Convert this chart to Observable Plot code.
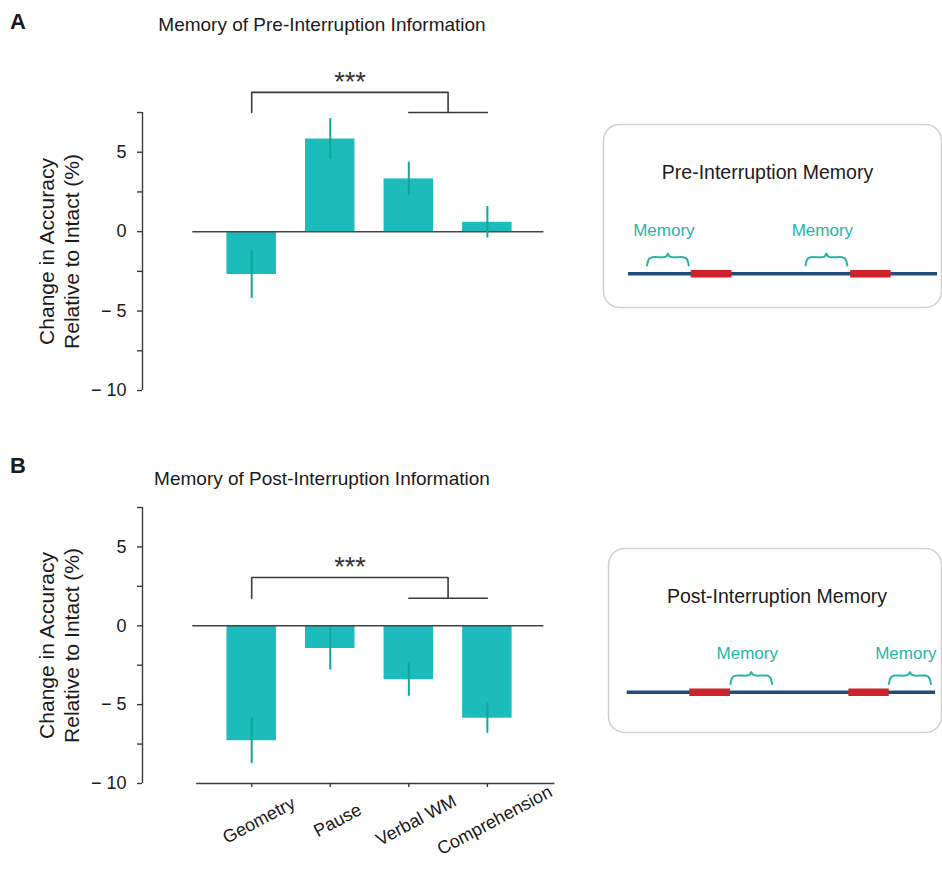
<!DOCTYPE html>
<html>
<head>
<meta charset="utf-8">
<script src="https://cdn.jsdelivr.net/npm/d3@7"></script>
<script src="https://cdn.jsdelivr.net/npm/@observablehq/plot@0.6"></script>
<style>
  html, body { margin: 0; padding: 0; background: #fff; }
  #fig { position: relative; width: 942px; height: 872px; background: #fff; overflow: hidden;
         font-family: 'Liberation Sans', Arial, Helvetica, sans-serif; color: #1a1a1a; }
  .abs { position: absolute; }
  .letter { position: absolute; font-weight: bold; font-size: 22px; line-height: 1; }
  .title { position: absolute; left: 0; width: 644px; text-align: center; font-size: 19px; line-height: 1; white-space: nowrap; }
</style>
</head>
<body>
<div id="fig">
  <div id="barA" class="abs" style="left:0;top:0;width:600px;height:420px"></div>
  <div id="barB" class="abs" style="left:0;top:440px;width:600px;height:432px"></div>
  <div id="schA" class="abs" style="left:600px;top:115px;width:342px;height:200px"></div>
  <div id="schB" class="abs" style="left:600px;top:540px;width:342px;height:200px"></div>
  <div class="letter" style="left:10px;top:11px">A</div>
  <div class="title" style="top:15px">Memory of Pre-Interruption Information</div>
  <div class="letter" style="left:10px;top:455px">B</div>
  <div class="title" style="top:469px">Memory of Post-Interruption Information</div>
</div>
<script>
// ---------------- data ----------------
const categories = ["Geometry", "Pause", "Verbal WM", "Comprehension"];
const preValues  = [-2.7, 5.83, 3.32, 0.59];
const preErrors  = [1.5, 1.29, 1.05, 0.99];
const postValues = [-7.29, -1.44, -3.41, -5.86];
const postErrors = [1.45, 1.36, 1.06, 0.96];
const yTicks = [-10, -7.5, -5, -2.5, 0, 2.5, 5, 7.5];
const yDomain = [-10, 7.5];
const yLabel = "Change in Accuracy\nRelative to Intact (%)";
const sigLabel = "***";

// significance bracket: Geometry vs {Verbal WM, Comprehension}
const bracketLeft = "Geometry";
const bracketRight = ["Verbal WM", "Comprehension"];
const preBracketLevels  = {low: 7.5, high: 8.77, stars: 9.38};
const postBracketLevels = {low: 1.75, high: 3.06, stars: 3.70};

// schematic timelines (abstract time units)
const timelineSpan = [0, 100];
const interruptions = [[20.3, 33.5], [71.9, 85]];
const preMemoryWindows  = [[6, 19.5], [57.3, 70.8]];
const postMemoryWindows = [[33.5, 47], [84.9, 98.5]];
const memoryLabel = "Memory";
const preSchematicTitle = "Pre-Interruption Memory";
const postSchematicTitle = "Post-Interruption Memory";

// ---------------- styles ----------------
const FONT = "'Liberation Sans', Arial, Helvetica, sans-serif";
const BAR = "#1bbcbb", ERR = "#15a699", INK = "#1a1a1a", LINE = "#3a3a3a";
const TEAL = "#27b4a7", NAVY = "#1f4e7a", RED = "#cc2229", BOX = "#cfcfcf";
const xDomain = [-1.39, 3.88];
const halfBar = 0.315;
const zeroSpan = [-0.75, 3.72];
const baseSpan = [-0.70, 3.86];
// brace glyph: [fraction of width, height above timeline]
const braceShape = [[0,8.3],[0.015,11.5],[0.05,15],[0.13,16.6],[0.39,16.6],[0.465,17.6],[0.5,20.3],[0.535,17.6],[0.61,16.6],[0.87,16.6],[0.95,15],[0.985,11.5],[1,8.3]];

function barChart({values, errors, levels, height, marginTop, marginBottom, xAxis}) {
  const data = categories.map((c, i) => ({cat: c, i, value: values[i], err: errors[i]}));
  const li = categories.indexOf(bracketLeft);
  const ri = bracketRight.map(c => categories.indexOf(c));
  const mid = d3.mean(ri);
  const bracketTop = [
    {x: li, y: levels.low}, {x: li, y: levels.high},
    {x: mid, y: levels.high}, {x: mid, y: levels.low}
  ];
  const bracketBase = [{x: ri[0], y: levels.low}, {x: ri[1], y: levels.low}];
  const fmt = d => d % 5 ? "" : d < 0 ? "\u2212 " + (-d) : String(d);
  const marks = [
    Plot.rect(data, {x1: d => d.i - halfBar, x2: d => d.i + halfBar, y1: () => 0, y2: "value", fill: BAR}),
    Plot.ruleY([0], {x1: () => zeroSpan[0], x2: () => zeroSpan[1], stroke: "#444", strokeWidth: 1.5}),
    Plot.ruleX(data, {x: "i", y1: d => d.value - d.err, y2: d => d.value + d.err, stroke: ERR, strokeWidth: 2}),
    Plot.line(bracketTop, {x: "x", y: "y", stroke: LINE, strokeWidth: 1.6}),
    Plot.line(bracketBase, {x: "x", y: "y", stroke: LINE, strokeWidth: 1.6}),
    Plot.text([sigLabel], {x: () => (li + mid) / 2, y: () => levels.stars, fontSize: 27, fill: "#333"}),
    Plot.ruleX([xDomain[0]], {y1: () => yDomain[0], y2: () => yDomain[1], stroke: LINE, strokeWidth: 1.4}),
    Plot.axisY(yTicks, {tickFormat: fmt, tickSize: 5, tickPadding: 11, fontSize: 18, stroke: LINE, strokeWidth: 1.4, fill: INK, label: null}),
    Plot.text([yLabel], {frameAnchor: "left", textAnchor: "middle", rotate: -90, dx: -84, fontSize: 21, lineHeight: 1.2, fill: INK})
  ];
  if (xAxis) {
    marks.push(
      Plot.ruleY([yDomain[0]], {x1: () => baseSpan[0], x2: () => baseSpan[1], stroke: LINE, strokeWidth: 1.5}),
      Plot.axisX(d3.range(categories.length), {tickSize: 4, tickFormat: () => "", stroke: LINE, strokeWidth: 1.4, label: null}),
      Plot.text(categories, {x: (d, i) => i, frameAnchor: "bottom", textAnchor: "middle", rotate: -28, dx: 10, dy: 42, fontSize: 18, fill: INK})
    );
  }
  return Plot.plot({
    width: 600, height, marginTop, marginBottom, marginLeft: 142, marginRight: 44,
    x: xAxis ? {domain: xDomain} : {domain: xDomain, axis: null},
    y: {domain: yDomain},
    style: {fontFamily: FONT, background: "transparent", overflow: "visible", color: INK},
    marks
  });
}

function schematic({title, windows, margin, xRange, lineY, labelY, titleDx}) {
  const braces = windows.flatMap(([a, b], k) => braceShape.map(([f, h]) => ({x: a + f * (b - a), y: h, k})));
  return Plot.plot({
    width: 342, height: 200,
    marginTop: margin[0], marginRight: margin[1], marginBottom: margin[2], marginLeft: margin[3],
    x: {domain: [0, 100], range: xRange, axis: null},
    y: {domain: [0, 100], range: [lineY, lineY - 100], axis: null},
    style: {fontFamily: FONT, background: "transparent", overflow: "visible"},
    marks: [
      Plot.frame({rx: 16, stroke: BOX, strokeWidth: 1.5}),
      Plot.text([title], {frameAnchor: "top", dy: 41, dx: titleDx, fontSize: 19.5, fill: INK}),
      Plot.ruleY([0], {x1: () => timelineSpan[0], x2: () => timelineSpan[1], stroke: NAVY, strokeWidth: 3.5}),
      Plot.ruleY(interruptions, {x1: d => d[0], x2: d => d[1], y: () => 0, stroke: RED, strokeWidth: 7.5}),
      Plot.line(braces, {x: "x", y: "y", z: "k", curve: "catmull-rom", stroke: TEAL, strokeWidth: 2}),
      Plot.text(windows, {x: d => (d[0] + d[1]) / 2, y: () => labelY, dx: -4, text: () => memoryLabel, fontSize: 17, fill: TEAL})
    ]
  });
}

document.getElementById("barA").append(barChart({
  values: preValues, errors: preErrors, levels: preBracketLevels,
  height: 420, marginTop: 112, marginBottom: 30, xAxis: false
}));
document.getElementById("barB").append(barChart({
  values: postValues, errors: postErrors, levels: postBracketLevels,
  height: 432, marginTop: 67, marginBottom: 89, xAxis: true
}));
document.getElementById("schA").append(schematic({
  title: preSchematicTitle, windows: preMemoryWindows,
  margin: [9, 1, 8, 3], xRange: [28, 337], lineY: 158.3, labelY: 43, titleDx: -5
}));
document.getElementById("schB").append(schematic({
  title: postSchematicTitle, windows: postMemoryWindows,
  margin: [8, 1, 8, 8], xRange: [26.7, 335], lineY: 151.7, labelY: 38.5, titleDx: 2
}));
</script>
</body>
</html>
